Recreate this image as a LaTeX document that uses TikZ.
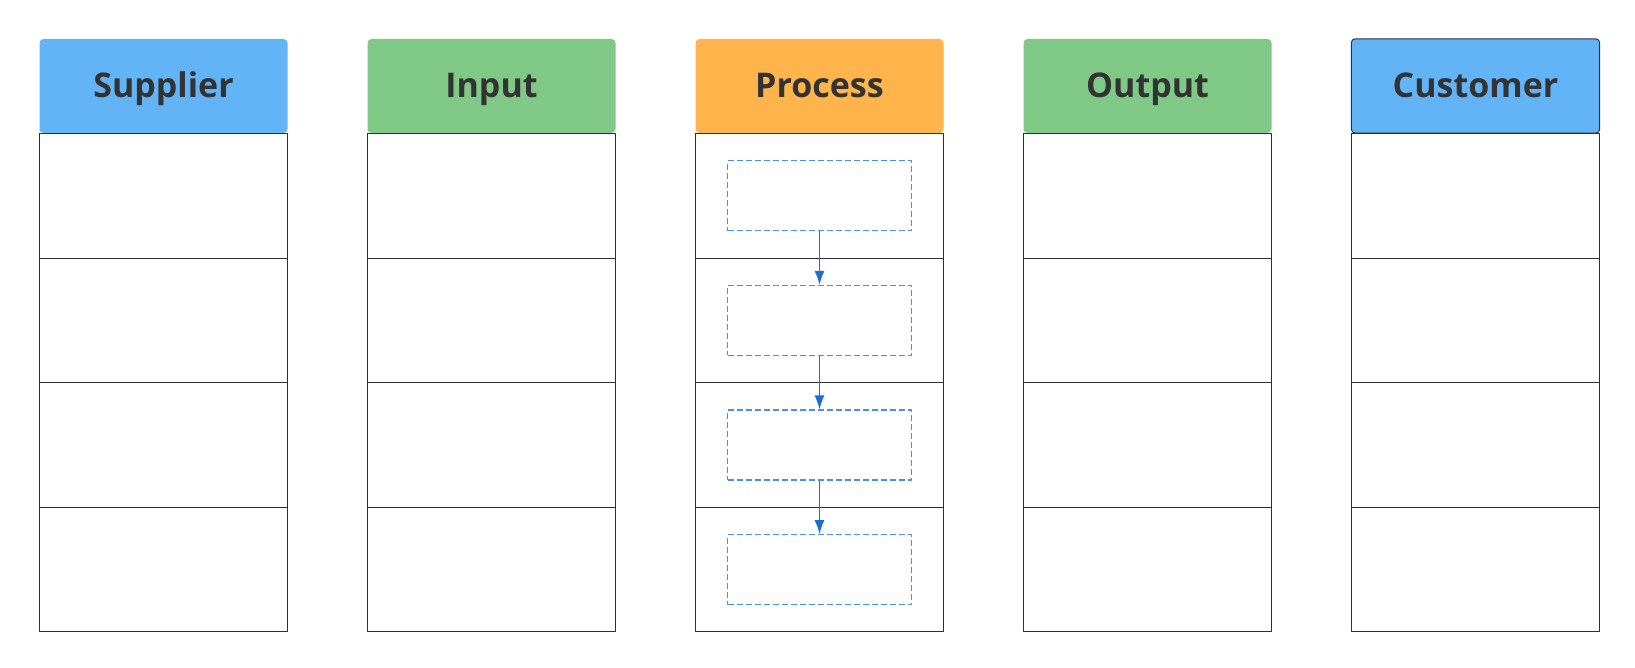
\documentclass[tikz,border=0pt]{standalone}
\usepackage{fontspec}
\setmainfont{Open Sans}
\usetikzlibrary{arrows.meta}
\definecolor{bluehead}{HTML}{62B4F6}
\definecolor{greenhead}{HTML}{80C886}
\definecolor{orangehead}{HTML}{FFB54C}
\definecolor{headtext}{HTML}{333333}
\definecolor{celledge}{HTML}{2E2E38}
\definecolor{dashblue}{HTML}{4A90E2}
\definecolor{arrowblue}{HTML}{1C6FD1}
\tikzset{
  head/.style={minimum width=248pt, minimum height=94pt, rounded corners=4pt,
    text=headtext, font=\fontsize{34}{38}\selectfont\bfseries,
    text height=29pt, text depth=6pt},
  cell/.style={draw=celledge, line width=0.9pt, minimum width=248pt,
    minimum height=124.6pt},
  substep/.style={draw=dashblue, line width=1.1pt, dash pattern=on 6pt off 3pt,
    minimum width=184pt, minimum height=70pt},
  flow/.style={-{Latex[length=14pt,width=10pt]}, arrowblue, line width=1.2pt}
}
\begin{document}
\begin{tikzpicture}[x=1pt, y=1pt, line join=round]
  \useasboundingbox (0,0) rectangle (1635,668);
  \def\dx{328}
  \def\cellh{124.6}

  % colonne
  \foreach \name/\lab/\col [count=\i from 0] in
      {sup/Supplier/bluehead, inp/Input/greenhead, proc/Process/orangehead,
       out/Output/greenhead, cust/Customer/bluehead} {
    \node[head, fill=\col] (\name-head) at ({163.5+\i*\dx}, 582) {\lab};
    \foreach \r in {1,...,4}
      \node[cell] (\name-\r) at ({163.5+\i*\dx}, {534.5-(\r-0.5)*\cellh}) {};
  }

  % bordo del cliente
  \draw[celledge, line width=1pt, rounded corners=4pt]
    (cust-head.south west) rectangle (cust-head.north east);

  % passi del processo
  \foreach \r in {1,...,4}
    \node[substep] (step-\r) at (proc-\r) {};
  \draw[flow] (step-1) -- (step-2);
  \draw[flow] (step-2) -- (step-3);
  \draw[flow] (step-3) -- (step-4);
\end{tikzpicture}
\end{document}
